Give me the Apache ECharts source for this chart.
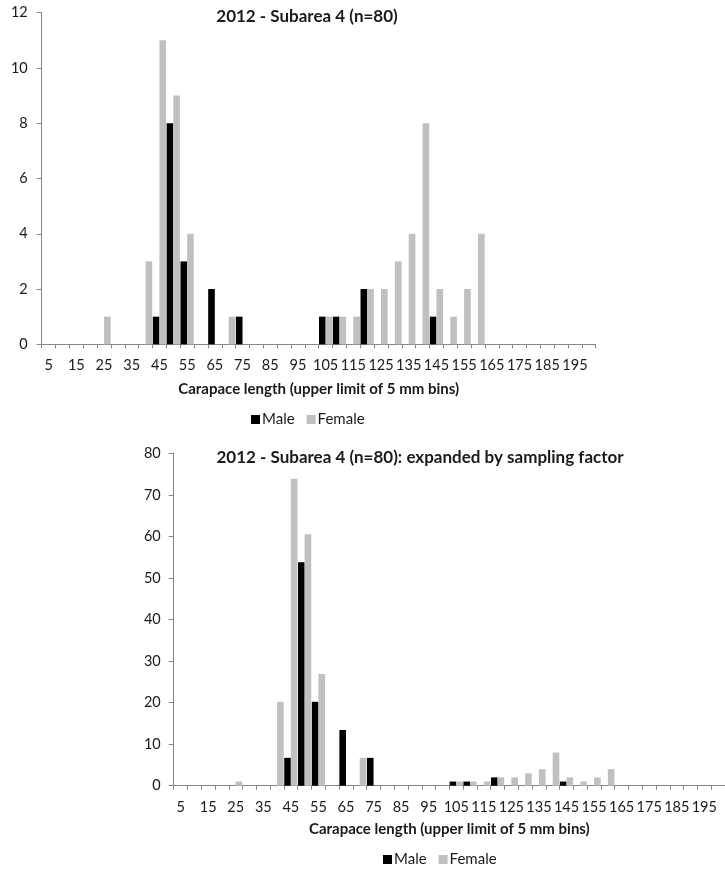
<!DOCTYPE html>
<html>
<head>
<meta charset="utf-8">
<script src="https://cdn.jsdelivr.net/npm/echarts@6/dist/echarts.min.js"></script>
<style>
html,body{margin:0;padding:0;background:#fff;}
#c{width:725px;height:874px;}
</style>
</head>
<body>
<div id="c"></div>
<script>
// Bin upper limits (mm)
const categories = ['5','10','15','20','25','30','35','40','45','50','55','60','65','70','75','80','85','90','95','100',
  '105','110','115','120','125','130','135','140','145','150','155','160','165','170','175','180','185','190','195','200'];

// Top panel: raw counts
const maleCounts = [0,0,0,0,0,0,0,0,1,8,3,0,2,0,1,0,0,0,0,0,
  1,1,0,2,0,0,0,0,1,0,0,0,0,0,0,0,0,0,0,0];
const femaleCounts = [0,0,0,0,1,0,0,3,11,9,4,0,0,1,0,0,0,0,0,0,
  1,1,1,2,2,3,4,8,2,1,2,4,0,0,0,0,0,0,0,0];

// Bottom panel: expanded by sampling factor
const maleExpanded = [0,0,0,0,0,0,0,0,6.7,53.8,20.2,0,13.4,0,6.7,0,0,0,0,0,
  1,1,0,2,0,0,0,0,1,0,0,0,0,0,0,0,0,0,0,0];
const femaleExpanded = [0,0,0,0,1,0,0,20.2,73.9,60.5,26.9,0,0,6.7,0,0,0,0,0,0,
  1,1,1,2,2,3,4,8,2,1,2,4,0,0,0,0,0,0,0,0];

const titles = ['2012 - Subarea 4 (n=80)', '2012 - Subarea 4 (n=80): expanded by sampling factor'];
const xAxisTitle = 'Carapace length (upper limit of 5 mm bins)';
const seriesNames = ['Male', 'Female'];

const FONT = 'Lato';
const TXT = '#1a1a1a';
const AXIS = '#868686';
const MALE_C = '#000000';
const FEMALE_C = '#c0c0c0';

function xAxisCfg(gridIndex, labelMargin, nameGap) {
  return {
    type: 'category', gridIndex, data: categories,
    boundaryGap: true,
    axisLine: {show: true, lineStyle: {color: AXIS, width: 1}},
    axisTick: {show: true, interval: 0, length: 4, lineStyle: {color: AXIS}},
    axisLabel: {interval: 1, color: TXT, fontFamily: FONT, fontSize: 14.5, margin: labelMargin},
    name: xAxisTitle, nameLocation: 'middle', nameGap: nameGap,
    nameTextStyle: {color: TXT, fontFamily: FONT, fontSize: 15, fontWeight: 'bold'},
    splitLine: {show: false}
  };
}
function yAxisCfg(gridIndex, max, interval, margin) {
  return {
    type: 'value', gridIndex, min: 0, max, interval,
    axisLine: {show: true, lineStyle: {color: AXIS, width: 1}},
    axisTick: {show: true, length: 5, lineStyle: {color: AXIS}},
    axisLabel: {color: TXT, fontFamily: FONT, fontSize: 14.5, margin},
    splitLine: {show: false}
  };
}
function barSeries(name, data, xi, color) {
  return {
    type: 'bar', name, data, xAxisIndex: xi, yAxisIndex: xi,
    barGap: '0%', barCategoryGap: '4%',
    itemStyle: {color},
    emphasis: {disabled: true},
    animation: false
  };
}

const chart = echarts.init(document.getElementById('c'), null, {renderer: 'canvas'});
chart.setOption({
  backgroundColor: '#ffffff',
  animation: false,
  title: [
    {text: titles[0], left: 307, top: 8, textAlign: 'center', padding: 0,
     textStyle: {fontFamily: FONT, fontSize: 17, fontWeight: 'bold', color: TXT}},
    {text: titles[1], left: 420, top: 449, textAlign: 'center', padding: 0,
     textStyle: {fontFamily: FONT, fontSize: 17, fontWeight: 'bold', color: TXT}}
  ],
  legend: [
    {data: seriesNames, left: 251, top: 412, itemWidth: 9, itemHeight: 9, itemGap: 12, padding: 0,
     icon: 'rect', textStyle: {fontFamily: FONT, fontSize: 15, color: TXT, padding: [0,0,0,-3]}, selectedMode: false},
    {data: seriesNames, left: 383, top: 852, itemWidth: 9, itemHeight: 9, itemGap: 12, padding: 0,
     icon: 'rect', textStyle: {fontFamily: FONT, fontSize: 15, color: TXT, padding: [0,0,0,-3]}, selectedMode: false}
  ],
  grid: [
    {left: 41.7, top: 12.7, width: 554, height: 331.6},
    {left: 173.7, top: 453.3, width: 556, height: 332.4}
  ],
  xAxis: [xAxisCfg(0, 14, 37), xAxisCfg(1, 14, 36)],
  yAxis: [yAxisCfg(0, 12, 2, 14), yAxisCfg(1, 80, 10, 13)],
  series: [
    barSeries(seriesNames[0], maleCounts, 0, MALE_C),
    barSeries(seriesNames[1], femaleCounts, 0, FEMALE_C),
    barSeries(seriesNames[0], maleExpanded, 1, MALE_C),
    barSeries(seriesNames[1], femaleExpanded, 1, FEMALE_C)
  ]
});
</script>
</body>
</html>
